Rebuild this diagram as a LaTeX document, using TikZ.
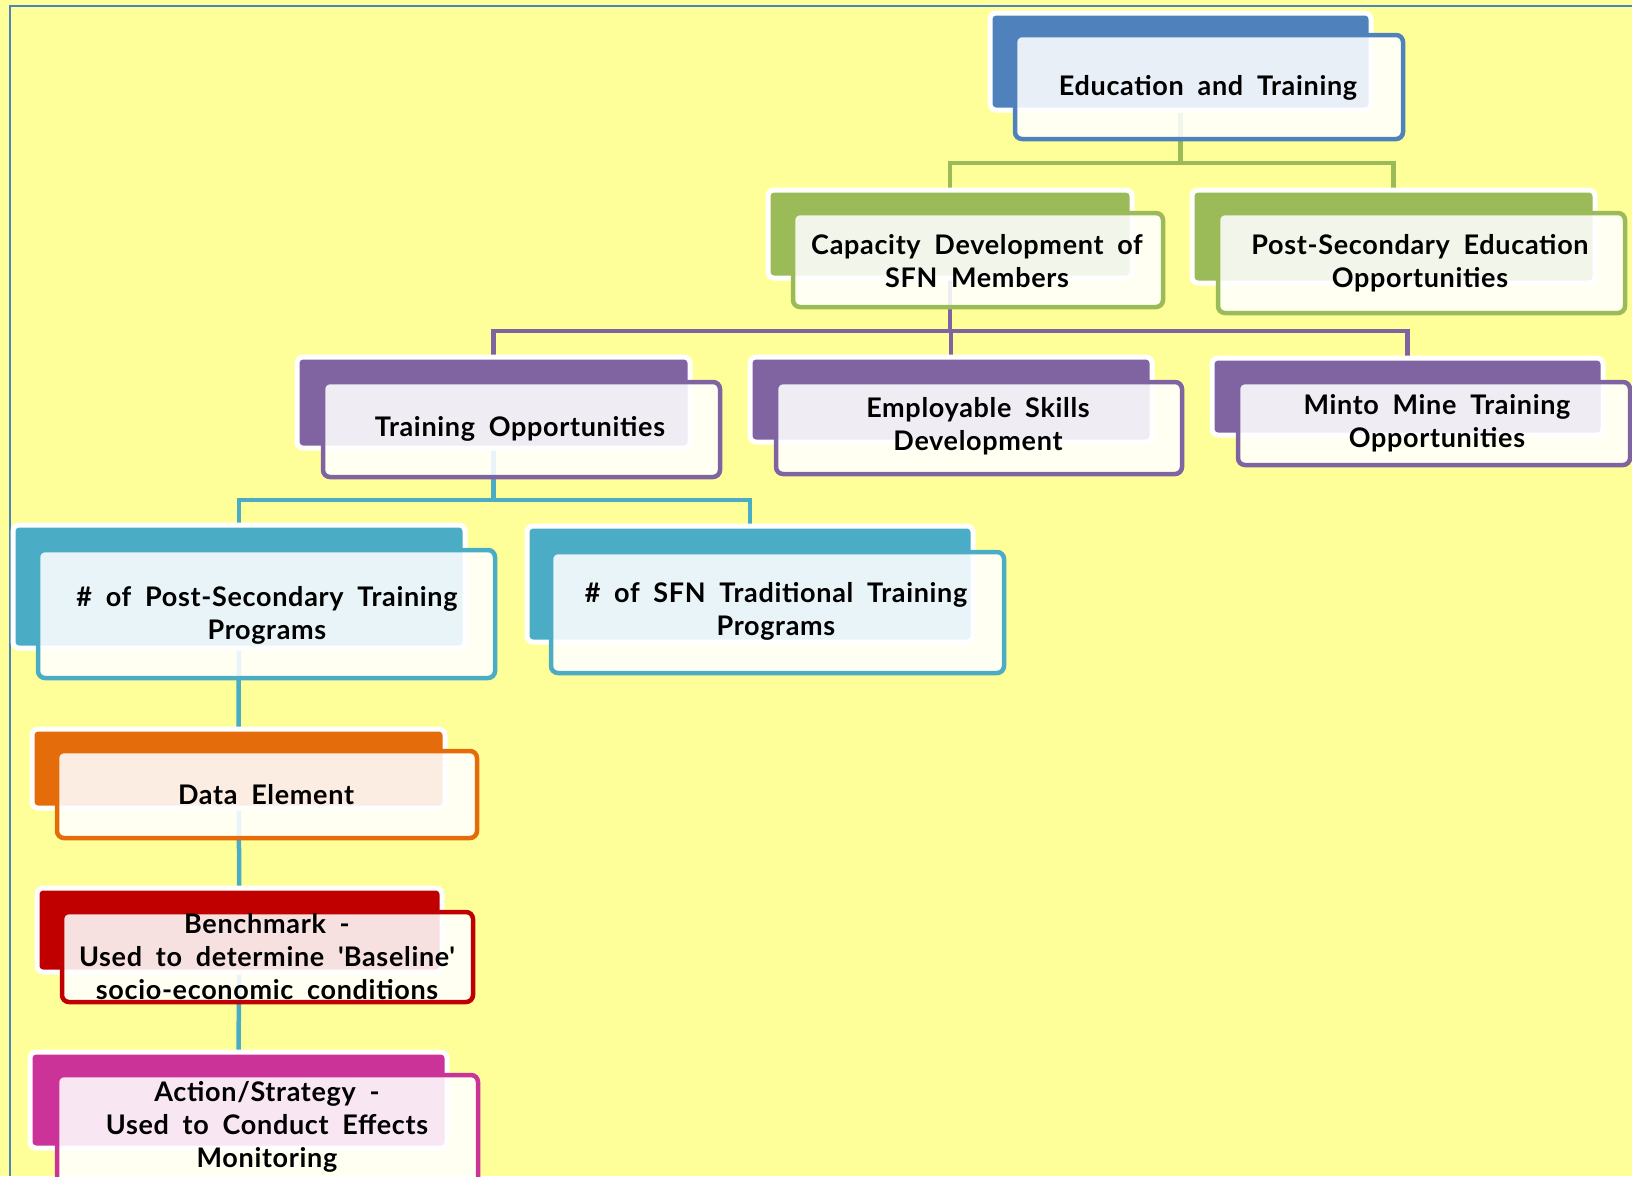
\documentclass[tikz,border=0pt]{standalone}
\usepackage{fontspec}
\setmainfont{Lato}[WordSpace=1.9, LetterSpace=2.5]
\definecolor{bgyel}{HTML}{FFFF99}
\definecolor{cblue}{HTML}{4F81BD}
\definecolor{cgreen}{HTML}{9BBB59}
\definecolor{cpurple}{HTML}{8064A2}
\definecolor{cteal}{HTML}{4BACC6}
\definecolor{corange}{HTML}{E46C0A}
\definecolor{cred}{HTML}{C00000}
\definecolor{cmag}{HTML}{CC3399}
\tikzset{
  backbox/.style={rectangle, rounded corners=6pt, fill=#1, draw=white, line width=5pt, inner sep=0pt},
  frontbox/.style={rectangle, rounded corners=7pt, fill=white, fill opacity=0.88, draw=#1, draw opacity=1, line width=4.5pt, inner sep=0pt},
  lbl/.style={font=\bfseries\fontsize{27}{33}\selectfont, align=center, text=black, inner sep=0pt},
  conn/.style={draw=#1, line width=4.5pt},
}
\begin{document}
\begin{tikzpicture}[x=1pt,y=-1pt]
\useasboundingbox (0,0) rectangle (1632,1176);
\fill[bgyel] (0,0) rectangle (1632,1176);
\draw[cblue, line width=2pt] (1632,6) -- (10,6) -- (10,1176);

\path
  (1180.5,61.5) coordinate (eduC)
  (950,234) coordinate (capC)
  (1393.5,236.5) coordinate (psC)
  (493.5,402.5) coordinate (trC)
  (951,399.5) coordinate (emC)
  (1407.5,396.5) coordinate (miC)
  (239,586.5) coordinate (ppC)
  (750,584) coordinate (sfC)
  (238.5,768.5) coordinate (daC)
  (239.5,930) coordinate (beC)
  (238.5,1100) coordinate (acC);

% invisible back-box placeholders for connectors
\begin{scope}[every node/.style={rectangle, inner sep=0pt}]
\node[minimum width=381pt, minimum height=97pt] (eduB) at (eduC) {};
\node[minimum width=364pt, minimum height=88pt] (capB) at (capC) {};
\node[minimum width=403pt, minimum height=93pt] (psB) at (psC) {};
\node[minimum width=393pt, minimum height=91pt] (trB) at (trC) {};
\node[minimum width=402pt, minimum height=85pt] (emB) at (emC) {};
\node[minimum width=391pt, minimum height=77pt] (miB) at (miC) {};
\node[minimum width=452pt, minimum height=123pt] (ppB) at (ppC) {};
\node[minimum width=446pt, minimum height=116pt] (sfB) at (sfC) {};
\node[minimum width=413pt, minimum height=79pt] (daB) at (daC) {};
\node[minimum width=405pt, minimum height=84pt] (beB) at (beC) {};
\node[minimum width=417pt, minimum height=96pt] (acB) at (acC) {};
\end{scope}

% connectors
\coordinate (gy) at (0,163);
\coordinate (py) at (0,331);
\coordinate (ty) at (0,500);
\draw[conn=cgreen] (eduB.center) -- (eduB.center |- gy);
\draw[conn=cgreen] (capB.north) -- (capB.north |- gy) -- (psB.north |- gy) -- (psB.north);
\draw[conn=cpurple] (capB.center) -- (capB.center |- py);
\draw[conn=cpurple] (trB.north) -- (trB.north |- py) -- (miB.north |- py) -- (miB.north);
\draw[conn=cpurple] (emB.north |- py) -- (emB.north);
\draw[conn=cteal] (trB.center) -- (trB.center |- ty);
\draw[conn=cteal] (ppB.north) -- (ppB.north |- ty) -- (sfB.north |- ty) -- (sfB.north);
\draw[conn=cteal] (ppB.center) -- (daB.center);
\draw[conn=cteal] (daB.center) -- (beB.center);
\draw[conn=cteal] (beB.center) -- (acB.north);

% boxes
\node[backbox=cblue, minimum width=381pt, minimum height=97pt] (eduBack) at (eduC) {};
\node[frontbox=cblue, minimum width=388pt, minimum height=104pt] (eduF) at (1209,87) {};
\node[lbl] (eduT) at (1208,88) {Education and Training};

\node[backbox=cgreen, minimum width=364pt, minimum height=88pt] (capBack) at (capC) {};
\node[frontbox=cgreen, minimum width=370pt, minimum height=94pt] (capF) at (978,260) {};
\node[lbl] (capT) at (977,261) {Capacity Development of\\SFN Members};

\node[backbox=cgreen, minimum width=403pt, minimum height=93pt] (psBack) at (psC) {};
\node[frontbox=cgreen, minimum width=407pt, minimum height=100pt] (psF) at (1421.5,263) {};
\node[lbl] (psT) at (1420,263.5) {Post-Secondary Education\\Opportunities};

\node[backbox=cpurple, minimum width=393pt, minimum height=91pt] (trBack) at (trC) {};
\node[frontbox=cpurple, minimum width=397pt, minimum height=95pt] (trF) at (521.5,429.5) {};
\node[lbl] (trT) at (520,429) {Training Opportunities};

\node[backbox=cpurple, minimum width=402pt, minimum height=85pt] (emBack) at (emC) {};
\node[frontbox=cpurple, minimum width=406pt, minimum height=92pt] (emF) at (979,428) {};
\node[lbl] (emT) at (978,426.5) {Employable Skills\\Development};

\node[backbox=cpurple, minimum width=391pt, minimum height=77pt] (miBack) at (miC) {};
\node[frontbox=cpurple, minimum width=392pt, minimum height=83pt] (miF) at (1434,423.5) {};
\node[lbl] (miT) at (1437,423.5) {Minto Mine Training\\Opportunities};

\node[backbox=cteal, minimum width=452pt, minimum height=123pt] (ppBack) at (ppC) {};
\node[frontbox=cteal, minimum width=457pt, minimum height=128pt] (ppF) at (266.5,614) {};
\node[lbl] (ppT) at (267,615) {\# of Post-Secondary Training\\Programs};

\node[backbox=cteal, minimum width=446pt, minimum height=116pt] (sfBack) at (sfC) {};
\node[frontbox=cteal, minimum width=453pt, minimum height=121pt] (sfF) at (777.5,612.5) {};
\node[lbl] (sfT) at (776,611) {\# of SFN Traditional Training\\Programs};

\node[backbox=corange, minimum width=413pt, minimum height=79pt] (daBack) at (daC) {};
\node[frontbox=corange, minimum width=420pt, minimum height=87pt] (daF) at (267,794.5) {};
\node[lbl] (daT) at (266,795) {Data Element};

\node[backbox=cred, minimum width=405pt, minimum height=84pt] (beBack) at (beC) {};
\node[frontbox=cred, minimum width=411pt, minimum height=90pt] (beF) at (267.5,957) {};
\node[lbl] (beT) at (267,956.5) {Benchmark -\\Used to determine \textquotesingle Baseline\textquotesingle\\socio-economic conditions};

\node[backbox=cmag, minimum width=417pt, minimum height=96pt] (acBack) at (acC) {};
\node[frontbox=cmag, minimum width=421pt, minimum height=112pt] (acF) at (267.5,1131) {};
\node[lbl] (acT) at (267,1126.5) {Action/Strategy -\\Used to Conduct Effects\\Monitoring};
\end{tikzpicture}
\end{document}
